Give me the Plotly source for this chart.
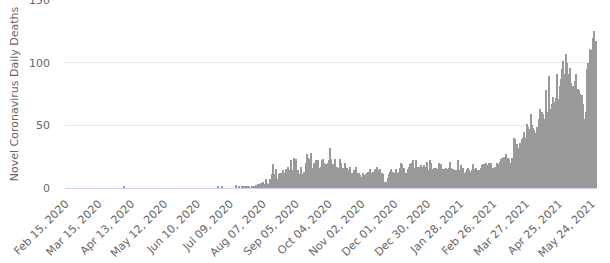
import pandas as pd
import plotly.graph_objects as go

start_date = "2020-02-15"
# daily deaths, grouped by month
feb_2020 = [0, 0, 0, 0, 0, 0, 0, 0, 0, 0, 0, 0, 0, 0, 0]
mar_2020 = [0, 0, 0, 0, 0, 0, 0, 0, 0, 0, 0, 0, 0, 0, 0, 0, 0, 0, 0, 0, 0, 0, 0, 0, 0, 0, 0, 0, 0, 0, 0]
apr_2020 = [0, 0, 0, 0, 0, 0, 1, 0, 0, 0, 0, 0, 0, 0, 0, 0, 0, 0, 0, 0, 0, 0, 0, 0, 0, 0, 0, 0, 0, 0]
may_2020 = [0, 0, 0, 0, 0, 0, 0, 0, 0, 0, 0, 0, 0, 0, 0, 0, 0, 0, 0, 0, 0, 0, 0, 0, 0, 0, 0, 0, 0, 0, 0]
jun_2020 = [0, 0, 0, 0, 0, 0, 0, 0, 0, 0, 0, 0, 0, 0, 0, 0, 0, 0, 0, 0, 0, 0, 0, 0, 0, 0, 0, 1, 0, 0]
jul_2020 = [0, 1, 0, 0, 0, 0, 0, 0, 0, 0, 0, 0, 0, 2, 0, 0, 1, 0, 0, 1, 1, 0, 1, 0, 1, 1, 0, 1, 1, 0, 1]
aug_2020 = [2, 2, 3, 3, 4, 4, 5, 3, 3, 7, 4, 3, 7, 7, 11, 19, 11, 10, 15, 7, 11, 12, 12, 12, 14, 12,
            15, 14, 17, 14, 14]
sep_2020 = [22, 14, 24, 14, 23, 14, 14, 11, 11, 17, 11, 13, 12, 20, 27, 24, 23, 28, 16, 16,
            20, 16, 22, 16, 22, 16, 17, 22, 23, 20]
oct_2020 = [16, 19, 20, 22, 32, 23, 12, 19, 12, 23, 17, 16, 12, 23, 20, 9, 16, 20, 16, 16,
            14, 12, 17, 12, 12, 14, 12, 17, 12, 12, 12]
nov_2020 = [10, 9, 12, 7, 10, 11, 12, 13, 15, 11, 12, 13, 11, 15, 12, 17, 14, 15, 11, 12,
            11, 5, 5, 5, 8, 11, 13, 15, 12, 13]
dec_2020 = [12, 15, 12, 12, 13, 16, 20, 19, 16, 12, 11, 12, 15, 17, 19, 20, 22, 16, 16, 22,
            17, 15, 17, 18, 17, 15, 18, 14, 17, 21, 14]
jan_2021 = [22, 20, 15, 15, 16, 16, 16, 15, 20, 18, 19, 14, 15, 15, 16, 13, 15, 16, 21, 16,
            12, 15, 14, 14, 14, 22, 10, 14, 18, 16, 12]
feb_2021 = [11, 13, 15, 16, 14, 13, 14, 19, 15, 14, 16, 13, 14, 14, 16, 18, 19, 17, 19, 20,
            18, 20, 17, 20, 15, 16, 15, 17]
mar_2021 = [20, 19, 16, 21, 23, 24, 20, 25, 27, 20, 24, 23, 20, 20, 24, 40, 39, 33, 35, 32,
            32, 36, 39, 40, 45, 39, 40, 51, 49, 47, 59]
apr_2021 = [50, 48, 46, 44, 43, 49, 55, 63, 61, 61, 59, 55, 51, 78, 61, 89, 61, 63, 67, 73,
            69, 72, 91, 71, 71, 81, 87, 95, 101, 91]
may_2021 = [107, 100, 88, 91, 96, 84, 81, 75, 85, 91, 78, 79, 78, 75, 74, 67, 55, 52, 61, 95,
            100, 111, 97, 110, 120, 125, 116, 117]

deaths = (feb_2020 + mar_2020 + apr_2020 + may_2020 + jun_2020 + jul_2020 + aug_2020 +
          sep_2020 + oct_2020 + nov_2020 + dec_2020 + jan_2021 + feb_2021 + mar_2021 +
          apr_2021 + may_2021)
dates = pd.date_range(start_date, periods=len(deaths), freq="D")

tick_dates = pd.date_range(start_date, periods=17, freq="29D")
tick_labels = [d.strftime("%b %d, %Y") for d in tick_dates]
y_ticks = [0, 50, 100, 150]

FONT = "DejaVu Sans"
fig = go.Figure(go.Bar(x=dates, y=deaths, marker=dict(color="#999999", line=dict(width=0))))
fig.update_layout(
    width=610, height=263,
    margin=dict(l=65, r=13, t=0, b=75, autoexpand=False),
    paper_bgcolor="white", plot_bgcolor="white",
    bargap=0, showlegend=False,
    font=dict(family=FONT, size=11, color="#666666"),
)
fig.update_xaxes(
    range=[dates[0] - pd.Timedelta(hours=12), dates[-1] + pd.Timedelta(hours=12)],
    tickvals=tick_dates, ticktext=tick_labels, tickangle=-45, automargin=False,
    showgrid=False, showline=True, linecolor="#ccd6eb", linewidth=1,
    ticks="", ticklabelstandoff=4, tickfont=dict(size=11, color="#666666"),
)
fig.update_yaxes(
    range=[0, 150], tickvals=y_ticks, showgrid=True, gridcolor="#e6e6e6", gridwidth=1,
    zeroline=False, ticks="", ticklabelstandoff=14, ticklabeloverflow="allow",
    automargin=False, tickfont=dict(size=11, color="#666666"),
    title=dict(text="Novel Coronavirus Daily Deaths", standoff=8,
               font=dict(size=11, color="#666666")),
)
fig.write_html("out.html")
